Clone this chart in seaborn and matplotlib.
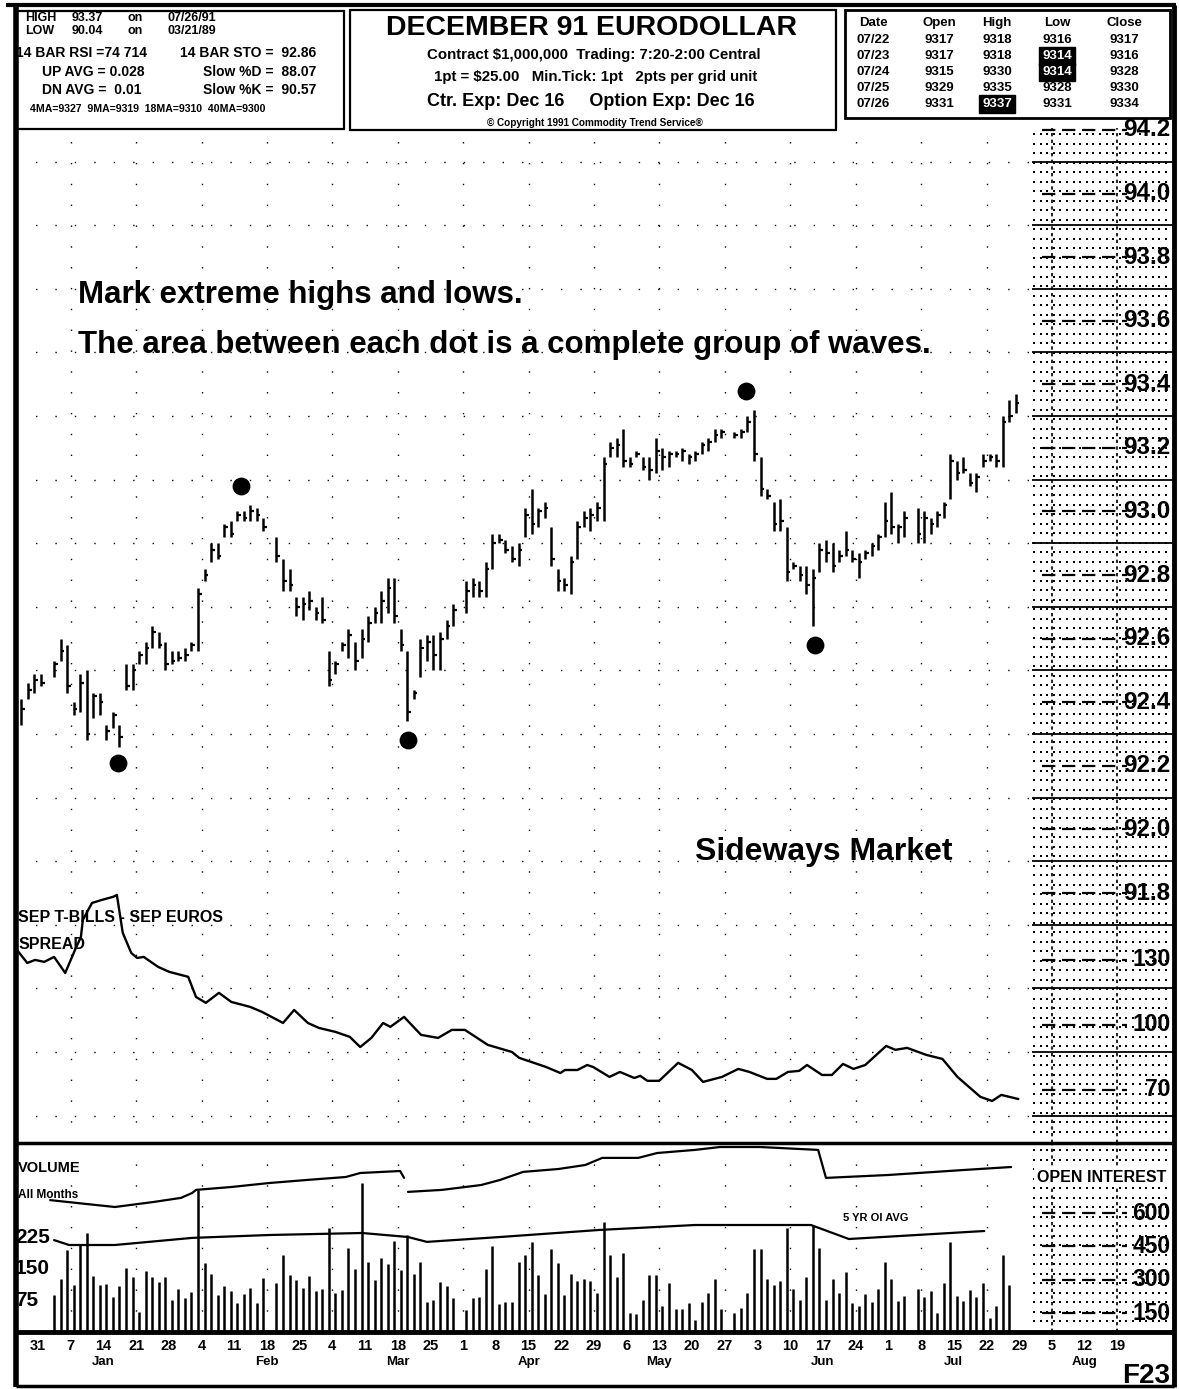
import numpy as np
import pandas as pd
import matplotlib
matplotlib.use("Agg")
import matplotlib.pyplot as plt
import seaborn as sns

# ---------------------------------------------------------------- data
# weekday slots counted from Mon 31 Dec 1990 (slot 0); None = exchange closed
FIRST_SLOT = -3

bar_high = [
    92.41, 92.46, 92.49, 92.49, None, 92.53, 92.60, 92.58, 92.40, 92.49,
    92.50, 92.43, 92.43, 92.33, 92.37, 92.33, 92.52, 92.52, 92.56, 92.59,
    92.64, 92.62, 92.59, 92.56, 92.56, 92.57, 92.59, 92.76, 92.82, 92.90,
    92.90, 92.96, 92.97, 93.00, 93.00, 93.02, 93.01, 92.98, None, 92.92,
    92.85, 92.82, 92.73, 92.73, 92.75, 92.70, 92.73, 92.56, 92.53, 92.59,
    92.63, 92.59, 92.63, 92.67, 92.70, 92.75, 92.79, 92.79, 92.63, 92.56,
    92.44, 92.60, 92.61, 92.61, 92.62, 92.66, 92.71, None, 92.78, 92.79,
    92.78, 92.84, 92.93, 92.93, 92.91, 92.89, 92.90, 93.01, 93.07, 93.01,
    93.03, 92.95, 92.82, 92.79, 92.86, 92.97, 93.00, 93.01, 93.03, 93.17,
    93.22, 93.23, 93.26, 93.17, 93.19, 93.17, 93.17, 93.23, 93.20, 93.19,
    93.19, 93.20, 93.18, 93.19, 93.22, 93.23, 93.26, 93.26, None, 93.25,
    93.26, 93.30, 93.32, 93.17, 93.07, 93.03, 93.04, 92.95, 92.84, 92.83,
    92.83, 92.82, 92.90, 92.91, 92.90, 92.88, 92.94, 92.88, 92.87, 92.88,
    92.90, 92.93, 93.03, 93.06, 92.96, 93.00, None, 93.01, 93.00, 92.98,
    93.00, 93.03, 93.18, 93.16, 93.17, 93.12, 93.12, 93.18, 93.18, 93.18,
    93.30, 93.35, 93.37,
]
bar_low = [
    92.33, 92.41, 92.43, 92.45, None, 92.48, 92.53, 92.43, 92.36, 92.37,
    92.28, 92.35, 92.36, 92.28, 92.32, 92.26, 92.44, 92.44, 92.52, 92.52,
    92.57, 92.57, 92.50, 92.52, 92.53, 92.53, 92.56, 92.56, 92.78, 92.84,
    92.85, 92.92, 92.92, 92.97, 92.97, 92.97, 92.97, 92.94, None, 92.84,
    92.75, 92.75, 92.67, 92.66, 92.69, 92.66, 92.65, 92.45, 92.49, 92.56,
    92.54, 92.50, 92.54, 92.59, 92.65, 92.65, 92.68, 92.65, 92.56, 92.34,
    92.41, 92.48, 92.53, 92.50, 92.50, 92.60, 92.64, None, 92.68, 92.73,
    92.73, 92.73, 92.82, 92.90, 92.87, 92.84, 92.83, 92.92, 92.93, 92.95,
    92.98, 92.83, 92.75, 92.75, 92.74, 92.85, 92.95, 92.94, 92.97, 92.97,
    93.17, 93.17, 93.14, 93.14, 93.17, 93.13, 93.10, 93.12, 93.13, 93.14,
    93.17, 93.16, 93.15, 93.16, 93.18, 93.19, 93.22, 93.23, None, 93.23,
    93.23, 93.25, 93.16, 93.05, 93.04, 92.94, 92.94, 92.78, 92.82, 92.78,
    92.74, 92.64, 92.81, 92.84, 92.81, 92.84, 92.86, 92.84, 92.79, 92.85,
    92.86, 92.88, 92.92, 92.93, 92.90, 92.92, None, 92.90, 92.90, 92.93,
    92.95, 92.98, 93.04, 93.10, 93.12, 93.08, 93.06, 93.14, 93.16, 93.14,
    93.14, 93.28, 93.31,
]
bar_close = [
    92.38, 92.44, 92.47, 92.46, None, 92.52, 92.56, 92.45, 92.38, 92.46,
    92.30, 92.42, 92.40, 92.31, 92.36, 92.29, 92.45, 92.50, 92.55, 92.57,
    92.62, 92.58, 92.52, 92.53, 92.54, 92.55, 92.58, 92.74, 92.80, 92.88,
    92.86, 92.95, 92.93, 92.99, 92.98, 93.00, 92.99, 92.95, None, 92.86,
    92.78, 92.77, 92.70, 92.71, 92.72, 92.68, 92.66, 92.47, 92.52, 92.58,
    92.61, 92.53, 92.60, 92.65, 92.68, 92.72, 92.76, 92.67, 92.58, 92.37,
    92.43, 92.57, 92.59, 92.55, 92.60, 92.64, 92.69, None, 92.75, 92.77,
    92.75, 92.82, 92.90, 92.91, 92.88, 92.85, 92.88, 92.99, 92.96, 93.00,
    93.01, 92.85, 92.78, 92.77, 92.84, 92.95, 92.98, 92.99, 93.01, 93.15,
    93.20, 93.21, 93.16, 93.15, 93.18, 93.14, 93.13, 93.19, 93.17, 93.18,
    93.18, 93.19, 93.17, 93.18, 93.21, 93.22, 93.24, 93.25, None, 93.24,
    93.25, 93.28, 93.18, 93.07, 93.05, 92.96, 92.97, 92.81, 92.83, 92.80,
    92.77, 92.79, 92.88, 92.87, 92.83, 92.86, 92.88, 92.85, 92.84, 92.87,
    92.89, 92.92, 92.97, 92.95, 92.95, 92.98, None, 92.93, 92.98, 92.96,
    92.99, 93.02, 93.16, 93.12, 93.13, 93.09, 93.11, 93.16, 93.17, 93.16,
    93.28, 93.30, 93.34,
]
volume = [
    None, None, None, None, None,
    88, 126, 195, 112, 209, 236, 133, 112, 114, 83, 109, 152, 131, 48, 145,
    131, 119, 131, 76, 102, 81, 95, 338, 164, 138, 88, 109, 98, 69, 90,
    105, 69, 129,
    None,
    117, 183, 136, 124, 105, 133, 98, 102, 248, 93, 100, 200, 150, 355, 167,
    124, 176, 162, 217, 148, 231, 138, 167, 71, 76, 119, 109, 81,
    None,
    52, 81, 83, 150, 205, 67, 71, 71, 167, 183, 214, 136, 90, 198, 164,
    88, 138, 121, 126, 121, 93,
    262, 183, 131, 188, 45, 43, 76, 136, 136, 62, 117, 55, 55, 69, 29,
    71, 93, 126, 55,
    None,
    45, 57, 93, 198, 198, 126, 112, 121, 248, 102, 76, 131, 255, 200, 76,
    126, 93, 143, 69, 62, 90, 71, 102, 167, 126, 74, 86,
    None,
    102, 83, 98, 45, 117, 214, 86, 74, 100, 83, 117, 33, 62, 183, 112,
    None,
]

# circled swing extremes
extreme_day = [11.8, 30.6, 56.1, 107.8, 118.3]
extreme_price = [92.21, 93.08, 92.28, 93.38, 92.58]

# Sep T-Bills minus Sep Euros spread
spread_day = [-4.5, -2.1, -0.9, 0.5, 2.0, 3.7, 5.2, 6.1, 6.4, 7.8, 9.3, 11.0, 11.6,
              12.5, 13.8, 14.7, 15.7, 17.9, 19.6, 22.5, 23.7, 25.2, 27.2, 29.1, 32.0,
              33.8, 37.0, 38.7, 40.8, 42.5, 45.0, 47.2, 48.8, 50.5, 52.3, 53.4, 55.5,
              58.1, 60.7, 62.8, 64.8, 68.3, 72.0, 73.1, 77.2, 79.4, 80.1, 82.0, 83.5,
              84.4, 86.9, 88.5, 90.7, 91.6, 92.7, 94.5, 97.4, 99.5, 101.2, 104.1,
              106.6, 108.3, 111.0, 112.4, 114.2, 115.9, 117.1, 119.4, 120.9, 122.6,
              124.2, 126.0, 129.2, 130.6, 132.4, 135.3, 137.8, 140.1, 143.6, 145.4,
              146.8, 149.4]
spread_val = [137.8, 128.6, 130.0, 129.1, 131.4, 124.0, 134.6, 140.6, 148.5, 156.3,
              157.7, 159.1, 160.0, 142.5, 133.2, 130.9, 131.4, 126.8, 124.5, 122.2,
              112.9, 110.2, 114.8, 110.6, 108.3, 106.0, 100.9, 106.9, 100.9, 98.6,
              96.8, 94.5, 89.8, 94.0, 100.9, 99.1, 103.7, 95.4, 94.0, 97.7, 97.7,
              90.8, 87.5, 84.8, 80.6, 77.8, 79.2, 79.2, 81.5, 80.6, 76.0, 78.3, 75.5,
              76.5, 74.2, 74.2, 82.5, 79.2, 73.7, 76.0, 79.7, 78.3, 75.1, 75.1, 78.3,
              78.8, 81.5, 76.9, 76.9, 82.0, 79.7, 81.5, 90.3, 88.5, 89.4, 86.2, 84.3,
              76.0, 66.8, 64.9, 67.7, 65.8]

# open interest, all months (two segments)
oi_day = [1.4, 8.4, 11.3, 17.3, 21.4, 23.1, 23.7, 29.1, 34.9, 40.8, 46.6, 48.8, 54.9, 55.5,
          56.1, 61.3, 67.3, 70.2, 73.7, 79.1, 83.2, 85.8, 91.3, 94.2, 100.0, 103.8,
          109.9, 116.0, 118.8, 120.0, 129.5, 141.3, 148.3]
oi_val = [658, 636, 627, 650, 668, 690, 704, 717, 735, 749, 762, 780, 789, 758,
          695, 704, 726, 749, 785, 798, 816, 848, 848, 870, 884, 897,
          897, 888, 884, 758, 771, 794, 807]
oi_seg = [0] * 14 + [1] * 19

# five-year average open interest
oiavg_day = [2.0, 4.3, 11.3, 23.1, 34.9, 49.1, 56.1, 59.0, 70.2, 85.5, 100.0, 117.7, 123.5, 144.2]
oiavg_val = [478, 456, 456, 488, 501, 510, 492, 470, 492, 524, 546, 546, 483, 519]

price_levels = [94.2, 94.0, 93.8, 93.6, 93.4, 93.2, 93.0, 92.8, 92.6, 92.4, 92.2, 92.0, 91.8]
spread_levels = [130, 100, 70]
vol_levels = [225, 150, 75]
oi_levels = [600, 450, 300, 150]

week_labels = ["31", "7", "14", "21", "28", "4", "11", "18", "25", "4", "11", "18", "25",
               "1", "8", "15", "22", "29", "6", "13", "20", "27", "3", "10", "17", "24",
               "1", "8", "15", "22", "29", "5", "12", "19"]
month_names = ["Jan", "Feb", "Mar", "Apr", "May", "Jun", "Jul", "Aug"]
month_week = [2, 7, 11, 15, 19, 24, 28, 32]

table_cols = ["Date", "Open", "High", "Low", "Close"]
table_rows = [["07/22", "9317", "9318", "9316", "9317"],
              ["07/23", "9317", "9318", "9314", "9316"],
              ["07/24", "9315", "9330", "9314", "9328"],
              ["07/25", "9329", "9335", "9328", "9330"],
              ["07/26", "9331", "9337", "9331", "9334"]]
table_marked = [(1, 3), (2, 3), (4, 2)]

# ---------------------------------------------------------------- figure
sns.set_theme(style="white")
plt.rcParams["font.family"] = ["Liberation Sans", "DejaVu Sans"]
plt.rcParams.update({"text.color": "black", "axes.labelcolor": "black",
                     "xtick.color": "black", "ytick.color": "black"})

W, H = 1179, 1389
fig = plt.figure(figsize=(W / 100, H / 100), dpi=100)
fig.patch.set_facecolor("white")


def px_rect(x0, y0, x1, y1):
    return [x0 / W, 1 - y1 / H, (x1 - x0) / W, (y1 - y0) / H]


XL = (-3.82, 173.2)       # weekday slots spanned by the panels
RIGHT_ZONE = 151.5        # start of the blank projection area

# background layer in pixel units: frames, header, dense grid
deco = fig.add_axes([0, 0, 1, 1], zorder=0)
deco.set_xlim(0, W)
deco.set_ylim(H, 0)
deco.axis("off")

ax = fig.add_axes(px_rect(16, 128, 1174, 1143), zorder=2)
ax_sp = fig.add_axes(px_rect(16, 128, 1174, 1143), zorder=3)
ax_vol = fig.add_axes(px_rect(16, 1143, 1174, 1332), zorder=2)
ax_oi = ax_vol.twinx()
ax_oi.set_zorder(3)

for a in (ax, ax_sp, ax_vol, ax_oi):
    a.set_facecolor("none")
    for s in a.spines.values():
        s.set_visible(False)
    a.set_xlim(*XL)

ax.set_ylim(91.014, 94.206)
ax_sp.set_ylim(45.5, 514)
ax_vol.set_ylim(0, 450)
ax_oi.set_ylim(64.5, 915)
for a in (ax, ax_sp):
    a.set_xticks([])
    a.set_yticks([])
ax_vol.set_yticks([])
ax_oi.set_yticks([])

# ---------------------------------------------------------------- frame & dense grid
K = dict(color="black", solid_capstyle="butt")
deco.plot([6, 1176], [5, 5], lw=3, **K)
deco.plot([16, 16], [5, 1387], lw=4, **K)
deco.plot([1174, 1174], [5, 1387], lw=3.5, **K)
deco.plot([16, 1174], [1386, 1386], lw=2.5, **K)
deco.plot([16, 1174], [1143, 1143], lw=2.5, **K)
deco.plot([16, 1174], [1332, 1332], lw=3.5, **K)
for (x0, y0, x1, y1, lw) in [(16, 11, 344, 129, 1.6), (350, 10, 836, 130, 1.6),
                             (845, 10, 1170, 118, 2.0)]:
    deco.add_patch(plt.Rectangle((x0, y0), x1 - x0, y1 - y0, fill=False, lw=lw, ec="black"))

gx = np.arange(1034, 1170, 6.6)
gy = np.concatenate([np.arange(134, 1140, 9.5), np.arange(1150, 1330, 9.5)])
GX, GY = np.meshgrid(gx, gy)
deco.scatter(GX.ravel(), GY.ravel(), s=1.1, c="black", marker="s", linewidths=0)

# sparse chart grid on the price scale
odd_levels = np.round(np.arange(91.1, 94.15, 0.2), 1)
ax.hlines(odd_levels, XL[0], RIGHT_ZONE, colors="black", lw=1.0, linestyles=(0, (1, 13)))
ax.hlines(odd_levels, RIGHT_ZONE, XL[1], colors="black", lw=1.3)
week_pos = np.arange(len(week_labels)) * 5 - 0.46
for a in (ax, ax_vol):
    a.vlines(week_pos[1:30:2], *a.get_ylim(), colors="black", lw=1.0, linestyles=(0, (1, 14)))
    a.vlines(week_pos[31::2], *a.get_ylim(), colors="black", lw=1.2, linestyles=(0, (2, 2)))

# ---------------------------------------------------------------- price bars
df = pd.DataFrame({"slot": np.arange(FIRST_SLOT, FIRST_SLOT + len(bar_high)),
                   "high": bar_high, "low": bar_low, "close": bar_close,
                   "volume": volume})
bars = df.dropna(subset=["high"])
ax.vlines(bars["slot"], bars["low"], bars["high"], colors="black", lw=1.8)
ax.hlines(bars["close"], bars["slot"], bars["slot"] + 0.55, colors="black", lw=1.6)

sns.scatterplot(x=extreme_day, y=extreme_price, ax=ax, s=165, color="black",
                linewidth=0, zorder=5, legend=False)

ax.hlines(price_levels, RIGHT_ZONE + 1.5, 166, colors="black", lw=1.6, linestyles=(0, (6, 3)))
for v in price_levels:
    ax.text(0.997, v, f"{v:.1f}", transform=ax.get_yaxis_transform(), ha="right",
            va="center", fontsize=17.5, fontweight="bold", zorder=6)

ax.text(62 / 1158, 93.68, "Mark extreme highs and lows.", transform=ax.get_yaxis_transform(),
        fontsize=22.5, fontweight="bold", va="center")
ax.text(62 / 1158, 93.525, "The area between each dot is a complete group of waves.",
        transform=ax.get_yaxis_transform(), fontsize=22.5, fontweight="bold", va="center")
ax.text(679 / 1158, 91.93, "Sideways Market", transform=ax.get_yaxis_transform(),
        fontsize=23, fontweight="bold", va="center")

# ---------------------------------------------------------------- spread
sns.lineplot(x=spread_day, y=spread_val, ax=ax_sp, color="black", lw=1.7,
             sort=False, estimator=None)
ax_sp.set_xlabel("")
ax_sp.set_ylabel("")
ax_sp.hlines(spread_levels, RIGHT_ZONE + 1.5, 166, colors="black", lw=1.6, linestyles=(0, (6, 3)))
for v in spread_levels:
    ax_sp.text(0.997, v, str(v), transform=ax_sp.get_yaxis_transform(), ha="right",
               va="center", fontsize=16.5, fontweight="bold", zorder=6)
ax_sp.text(0.002, 149.4, "SEP T-BILLS - SEP EUROS", transform=ax_sp.get_yaxis_transform(),
           fontsize=11.5, fontweight="bold", va="center")
ax_sp.text(0.002, 137, "SPREAD", transform=ax_sp.get_yaxis_transform(),
           fontsize=11.5, fontweight="bold", va="center")

# ---------------------------------------------------------------- volume / open interest
vol = df.dropna(subset=["volume"])
ax_vol.vlines(vol["slot"], 0, vol["volume"], colors="black", lw=1.8)
for v in vol_levels:
    ax_vol.text(-0.001, v, str(v), transform=ax_vol.get_yaxis_transform(), ha="left",
                va="center", fontsize=15, fontweight="bold", zorder=6)

oi_df = pd.DataFrame({"day": oi_day, "oi": oi_val, "seg": oi_seg})
sns.lineplot(data=oi_df, x="day", y="oi", units="seg", estimator=None, sort=False,
             color="black", lw=1.6, ax=ax_oi)
sns.lineplot(x=oiavg_day, y=oiavg_val, estimator=None, sort=False,
             color="black", lw=1.6, ax=ax_oi)
ax_oi.set_xlabel("")
ax_oi.set_ylabel("")
ax_oi.tick_params(right=False, labelright=False)
ax_oi.hlines(oi_levels, RIGHT_ZONE + 1.5, 166, colors="black", lw=1.6, linestyles=(0, (6, 3)))
for v in oi_levels:
    ax_oi.text(0.997, v, str(v), transform=ax_oi.get_yaxis_transform(), ha="right",
               va="center", fontsize=16.5, fontweight="bold", zorder=6)
ax_oi.text(0.002, 802, "VOLUME", transform=ax_oi.get_yaxis_transform(),
           fontsize=10.5, fontweight="bold", va="center")
ax_oi.text(0.002, 681, "All Months", transform=ax_oi.get_yaxis_transform(),
           fontsize=8.5, fontweight="bold", va="center")
ax_oi.text(827 / 1158, 577, "5 YR OI AVG", transform=ax_oi.get_yaxis_transform(),
           fontsize=8, fontweight="bold", va="center")
ax_oi.text(0.993, 760, "OPEN INTEREST", transform=ax_oi.get_yaxis_transform(),
           ha="right", fontsize=11.5, fontweight="bold", va="center",
           bbox=dict(boxstyle="square,pad=0.15", fc="white", ec="none"), zorder=6)

# date axis
ax_vol.xaxis.remove_overlapping_locs = False
ax_vol.set_xticks(week_pos, week_labels, fontsize=10.5, fontweight="bold")
ax_vol.set_xticks(week_pos[month_week], month_names, minor=True, fontsize=9.5, fontweight="bold")
ax_vol.tick_params(axis="x", which="major", length=0, pad=5, colors="black")
ax_vol.tick_params(axis="x", which="minor", length=0, pad=17, colors="black")
ax_vol.set_xlabel("")

deco.text(1170, 1376, "F23", fontsize=20, fontweight="bold", ha="right", va="center")

# ---------------------------------------------------------------- header boxes
def put(x, y, s, size, ha="left", **kw):
    deco.text(x, y, s, fontsize=size, ha=ha, va="center", fontweight="bold", **kw)

for y, lab, val, date in [(18, "HIGH", "93.37", "07/26/91"), (31, "LOW", "90.04", "03/21/89")]:
    put(25, y, lab, 9)
    put(72, y, val, 9)
    put(127, y, "on", 9)
    put(168, y, date, 9)
put(16, 53, "14 BAR RSI =74 714", 10)
put(316, 53, "14 BAR STO =  92.86", 10, ha="right")
put(42, 72, "UP AVG = 0.028", 10)
put(316, 72, "Slow %D =  88.07", 10, ha="right")
put(42, 90, "DN AVG =  0.01", 10)
put(316, 90, "Slow %K =  90.57", 10, ha="right")
put(30, 109, "4MA=9327  9MA=9319  18MA=9310  40MA=9300", 7.6)

put(592, 28, "DECEMBER 91 EURODOLLAR", 20.5, ha="center")
put(594, 55, "Contract $1,000,000  Trading: 7:20-2:00 Central", 10.8, ha="center")
put(596, 77, "1pt = $25.00   Min.Tick: 1pt   2pts per grid unit", 10.8, ha="center")
put(591, 102, "Ctr. Exp: Dec 16     Option Exp: Dec 16", 13, ha="center")
put(595, 123, "\u00a9 Copyright 1991 Commodity Trend Service\u00ae", 7.2, ha="center")

col_x = [873, 939, 997, 1057, 1124]
row_y = [23, 40, 56, 72, 88, 104]
for cx, name in zip(col_x, table_cols):
    put(cx, row_y[0], name, 9.5, ha="center")
for r, row in enumerate(table_rows):
    for c, cell in enumerate(row):
        if (r, c) in table_marked:
            put(col_x[c], row_y[r + 1], cell, 9.5, ha="center", color="white",
                bbox=dict(boxstyle="square,pad=0.2", fc="black", ec="black"))
        else:
            put(col_x[c], row_y[r + 1], cell, 9.5, ha="center")

fig.savefig("out.png", dpi=100, facecolor="white")
